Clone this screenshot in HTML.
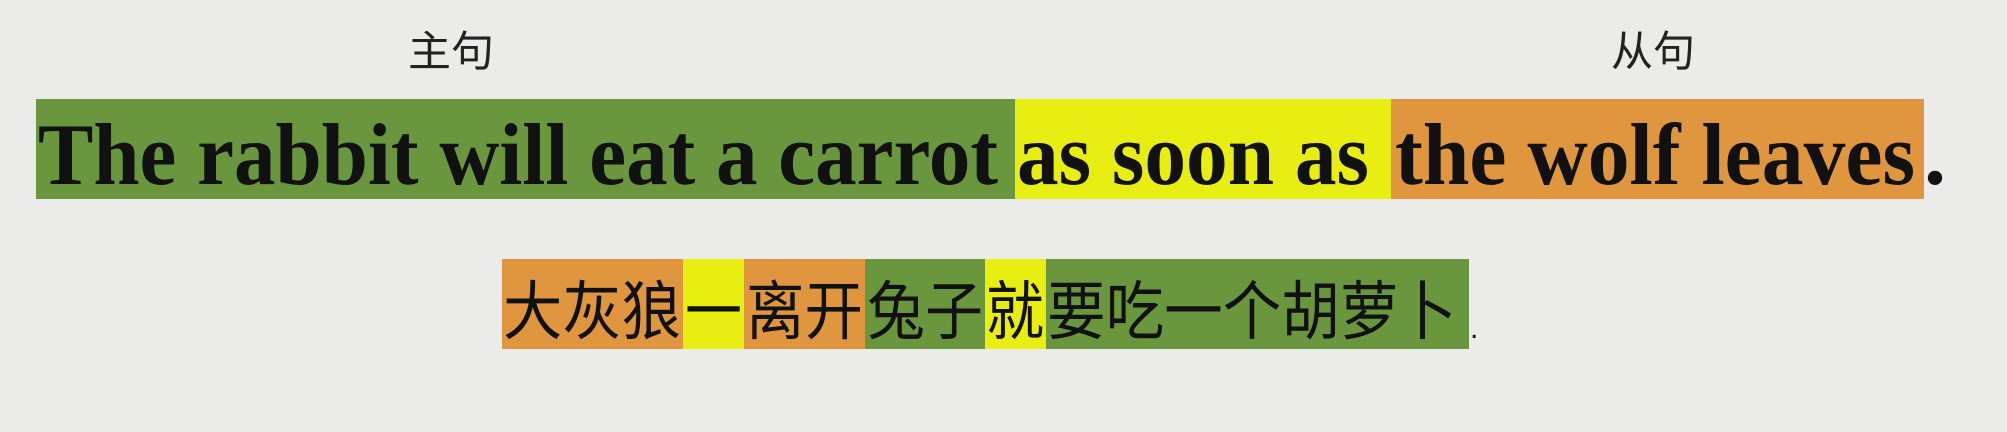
<!DOCTYPE html>
<html><head><meta charset="utf-8"><style>
html,body{margin:0;padding:0;background:#ebebea;overflow:hidden;}
svg{display:block;}
</style></head><body>
<svg width="2007" height="432" viewBox="0 0 2007 432">
<rect x="0" y="0" width="2007" height="432" fill="#ebebea"/>
<text x="408" y="66" font-family="'Liberation Sans','Noto Sans CJK SC',sans-serif" font-size="42" textLength="86" lengthAdjust="spacingAndGlyphs" fill="#222">主句</text>
<text x="1611" y="66" font-family="'Liberation Sans','Noto Sans CJK SC',sans-serif" font-size="42" textLength="84" lengthAdjust="spacingAndGlyphs" fill="#222">从句</text>

<rect x="36" y="99" width="979" height="100" fill="#6a973d"/>
<rect x="1015" y="99" width="376" height="100" fill="#e8ee12"/>
<rect x="1391" y="99" width="533" height="100" fill="#e0953f"/>
<g font-family="'Liberation Serif',serif" font-weight="bold" font-size="88" fill="#111">
<text x="38" y="184" textLength="960" lengthAdjust="spacingAndGlyphs">The rabbit will eat a carrot</text>
<text x="1017" y="184" textLength="352" lengthAdjust="spacingAndGlyphs">as soon as</text>
<text x="1395" y="184" textLength="520" lengthAdjust="spacingAndGlyphs">the wolf leaves</text>
<text x="1924" y="184">.</text>
</g>

<rect x="502" y="259" width="181" height="90" fill="#e0953f"/>
<rect x="683" y="259" width="61" height="90" fill="#e8ee12"/>
<rect x="744" y="259" width="121" height="90" fill="#e0953f"/>
<rect x="865" y="259" width="120" height="90" fill="#6a973d"/>
<rect x="985" y="259" width="61" height="90" fill="#e8ee12"/>
<rect x="1046" y="259" width="423" height="90" fill="#6a973d"/>
<g font-family="'Liberation Sans','Noto Sans CJK SC',sans-serif" font-size="64" fill="#111">
<text x="503" y="334" textLength="178" lengthAdjust="spacingAndGlyphs">大灰狼</text>
<text x="685" y="334" textLength="57" lengthAdjust="spacingAndGlyphs">一</text>
<text x="746" y="334" textLength="117" lengthAdjust="spacingAndGlyphs">离开</text>
<text x="867" y="334" textLength="116" lengthAdjust="spacingAndGlyphs">兔子</text>
<text x="986" y="334" textLength="58" lengthAdjust="spacingAndGlyphs">就</text>
<text x="1047" y="334" textLength="410" lengthAdjust="spacingAndGlyphs">要吃一个胡萝卜</text>
<text x="1470" y="338" font-size="30">.</text>
</g>
</svg>
</body></html>
